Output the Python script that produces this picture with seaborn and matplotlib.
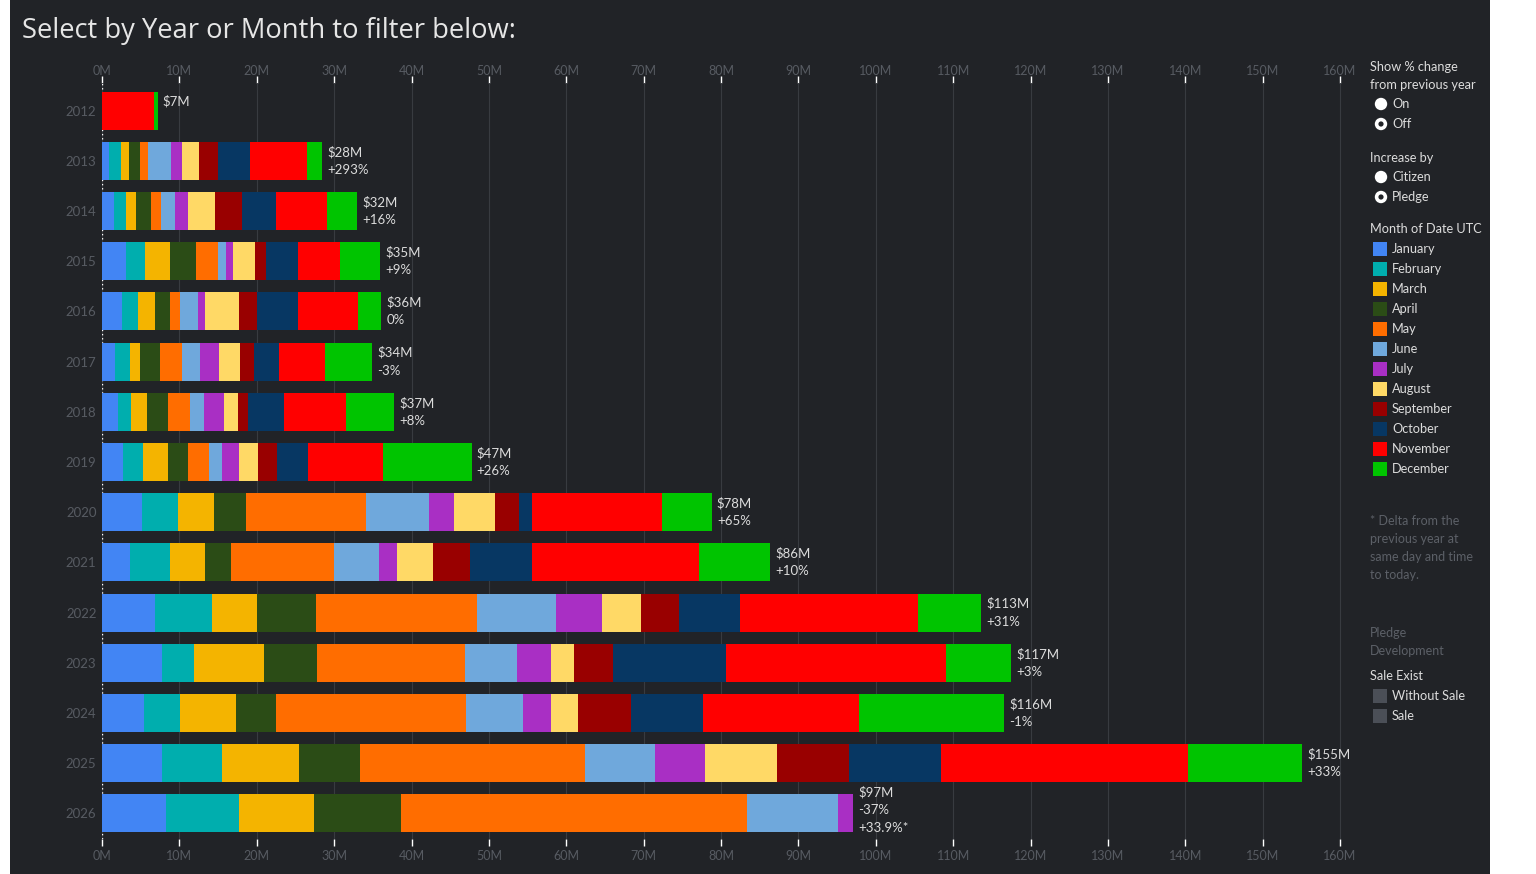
import matplotlib
matplotlib.use("Agg")
import matplotlib.pyplot as plt
from matplotlib.patches import Rectangle, Circle
import numpy as np
import seaborn as sns

# ---------------- data (values in millions) ----------------
years = ["2012", "2013", "2014", "2015", "2016", "2017", "2018", "2019",
         "2020", "2021", "2022", "2023", "2024", "2025", "2026"]
months = ["January", "February", "March", "April", "May", "June", "July",
          "August", "September", "October", "November", "December"]

jan = [0, 0.95, 1.60, 3.16, 2.55, 1.73, 2.12, 2.77, 5.14, 3.64, 6.81, 7.76, 5.44, 7.75, 8.32]
feb = [0, 1.56, 1.56, 2.46, 2.16, 1.94, 1.68, 2.59, 4.67, 5.13, 7.44, 4.17, 4.64, 7.80, 9.42]
mar = [0, 1.04, 1.29, 3.11, 2.08, 1.30, 2.08, 3.11, 4.67, 4.56, 5.80, 9.02, 7.28, 9.94, 9.71]
apr = [0, 1.42, 1.82, 3.38, 1.94, 2.55, 2.59, 2.60, 4.10, 3.35, 7.60, 6.86, 5.17, 7.91, 11.21]
may = [0, 1.00, 1.30, 2.85, 1.39, 2.77, 2.86, 2.72, 15.52, 13.33, 20.79, 19.10, 24.54, 29.03, 44.67]
jun = [0, 2.89, 1.81, 1.04, 2.24, 2.33, 1.80, 1.69, 8.14, 5.77, 10.24, 6.76, 7.39, 9.02, 11.85]
jul = [0, 1.43, 1.69, 0.90, 0.91, 2.47, 2.60, 2.20, 3.23, 2.36, 5.91, 4.38, 3.59, 6.47, 1.88]
aug = [0, 2.20, 3.54, 2.86, 4.41, 2.72, 1.82, 2.47, 5.31, 4.62, 5.07, 3.01, 3.53, 9.31, 0]
sep = [0, 2.47, 3.50, 1.42, 2.29, 1.82, 1.30, 2.46, 3.17, 4.79, 4.96, 5.01, 6.81, 9.26, 0]
oct_ = [0, 4.15, 4.37, 4.15, 5.36, 3.24, 4.67, 4.02, 1.62, 8.02, 7.84, 14.58, 9.28, 11.93, 0]
nov = [6.74, 7.39, 6.62, 5.45, 7.74, 5.92, 8.04, 9.73, 16.79, 21.58, 23.00, 28.43, 20.17, 31.92, 0]
dec = [0.44, 1.95, 3.89, 5.19, 3.02, 6.14, 6.22, 11.41, 6.46, 9.18, 8.14, 8.40, 18.73, 14.78, 0]

total_labels = ["$7M", "$28M", "$32M", "$35M", "$36M", "$34M", "$37M", "$47M",
                "$78M", "$86M", "$113M", "$117M", "$116M", "$155M", "$97M"]
change_labels = ["", "+293%", "+16%", "+9%", "0%", "-3%", "+8%", "+26%",
                 "+65%", "+10%", "+31%", "+3%", "-1%", "+33%", "-37%"]
extra_labels = ["", "", "", "", "", "", "", "", "", "", "", "", "", "", "+33.9%*"]

xticks = list(range(0, 161, 10))
xtick_labels = [f"{t}M" for t in xticks]

month_colors = ["#4285f4", "#00aeae", "#f4b400", "#2b4c16", "#ff6d00", "#6fa8dc",
                "#a92fc4", "#ffd966", "#990000", "#073763", "#ff0000", "#00c400"]

# ---------------- style ----------------
BG = "#212327"
DIM = "#575b62"
TXT = "#dcdcdc"
W, H = 1536, 874

sns.set_theme(style="dark")
plt.rcParams["font.family"] = ["Lato", "DejaVu Sans"]

fig = plt.figure(figsize=(W / 100, H / 100), dpi=100)
fig.patch.set_facecolor("white")
fig.patches.append(Rectangle((10 / W, 0), 1480 / W, 1, transform=fig.transFigure,
                             facecolor=BG, edgecolor="none", zorder=-10))

# axes placement in pixels
xmax = 161.5
px_per_m = 7.7375
ax_left, ax_top, ax_bottom = 102, 83, 838.5
ax_right = ax_left + xmax * px_per_m
ax = fig.add_axes([ax_left / W, 1 - ax_bottom / H, (ax_right - ax_left) / W,
                   (ax_bottom - ax_top) / H])
ax.set_facecolor(BG)

series = [jan, feb, mar, apr, may, jun, jul, aug, sep, oct_, nov, dec]
cum = np.cumsum(np.array(series), axis=0)

for m in range(11, -1, -1):
    sns.barplot(x=list(cum[m]), y=years, order=years, orient="h", color=month_colors[m],
                saturation=1, width=0.76, errorbar=None, linewidth=0, ax=ax, zorder=2)

ax.set_xlim(0, xmax)
ax.set_ylim(14.5, -0.55)
ax.set_xticks(xticks)
ax.set_xticklabels(xtick_labels)
ax.set_xlabel("")
ax.set_ylabel("")
for s in ax.spines.values():
    s.set_visible(False)
ax.grid(axis="x", color="#383b40", linewidth=0.8)
ax.grid(axis="y", visible=False)
ax.set_axisbelow(True)
ax.axvline(0, color="white", linestyle=(0, (1, 2)), linewidth=1, zorder=1)
ax.tick_params(axis="x", which="both", top=False, bottom=True, labeltop=False,
               labelbottom=True, colors="white", labelcolor=DIM, length=5, width=1,
               direction="out", labelsize=9, pad=3)
ax.tick_params(axis="y", length=0, labelcolor=DIM, labelsize=9.5, pad=4)

top = ax.secondary_xaxis("top")
top.set_xticks(xticks)
top.set_xticklabels(xtick_labels)
top.tick_params(axis="x", colors="white", labelcolor=DIM, length=5, width=1,
                direction="out", labelsize=9, pad=-1)
for s in top.spines.values():
    s.set_visible(False)

for i, yr in enumerate(years):
    total = cum[11][i]
    shift = 12 if extra_labels[i] else 0
    ax.annotate(total_labels[i], xy=(total, i), xytext=(5, 9 + shift),
                textcoords="offset pixels", ha="left", va="center",
                color=TXT, fontsize=9.5)
    if change_labels[i]:
        ax.annotate(change_labels[i], xy=(total, i), xytext=(5, -9 + shift),
                    textcoords="offset pixels", ha="left", va="center",
                    color=TXT, fontsize=9.5)
    if extra_labels[i]:
        ax.annotate(extra_labels[i], xy=(total, i), xytext=(5, -27 + shift),
                    textcoords="offset pixels", ha="left", va="center",
                    color=TXT, fontsize=9.5)

# ---------------- title ----------------
fig.text(22 / W, 1 - 31 / H, "Select by Year or Month to filter below:", ha="left",
         va="center", color="#e6e6e6", fontsize=19.7,
         family=["Open Sans", "DejaVu Sans"])

# ---------------- right panel ----------------
def ftext(x, y, s, color=TXT, size=9.2):
    fig.text(x / W, 1 - y / H, s, ha="left", va="center", color=color, fontsize=size)

def radio(x, y, selected):
    fig.patches.append(Circle((x / 100, (H - y) / 100), 0.062, transform=fig.dpi_scale_trans,
                              facecolor="white", edgecolor="none"))
    if selected:
        fig.patches.append(Circle((x / 100, (H - y) / 100), 0.026,
                                  transform=fig.dpi_scale_trans,
                                  facecolor=BG, edgecolor="none"))

def swatch(x, y, color):
    fig.patches.append(Rectangle(((x - 7) / W, 1 - (y + 7) / H), 14 / W, 14 / H,
                                 transform=fig.transFigure, facecolor=color,
                                 edgecolor="none"))

ftext(1370, 67, "Show % change")
ftext(1370, 85, "from previous year")
radio(1381, 104, False)
ftext(1392, 104, "On")
radio(1381, 124, True)
ftext(1392, 124, "Off")

ftext(1370, 158, "Increase by")
radio(1381, 177, False)
ftext(1392, 177, "Citizen")
radio(1381, 197, True)
ftext(1392, 197, "Pledge")

ftext(1370, 229, "Month of Date UTC")
for k, name in enumerate(months):
    yy = 249 + 20 * k
    swatch(1380, yy, month_colors[k])
    ftext(1392, yy, name)

for k, line in enumerate(["* Delta from the", "previous year at", "same day and time",
                          "to today."]):
    ftext(1370, 521 + 18 * k, line, color="#5c6067", size=9)

ftext(1370, 633, "Pledge", color="#5c6067", size=9)
ftext(1370, 651, "Development", color="#5c6067", size=9)
ftext(1370, 676, "Sale Exist")
swatch(1380, 696, "#4b4f57")
ftext(1392, 696, "Without Sale")
swatch(1380, 716, "#4b4f57")
ftext(1392, 716, "Sale")

fig.savefig("out.png", dpi=100, facecolor=fig.get_facecolor())
